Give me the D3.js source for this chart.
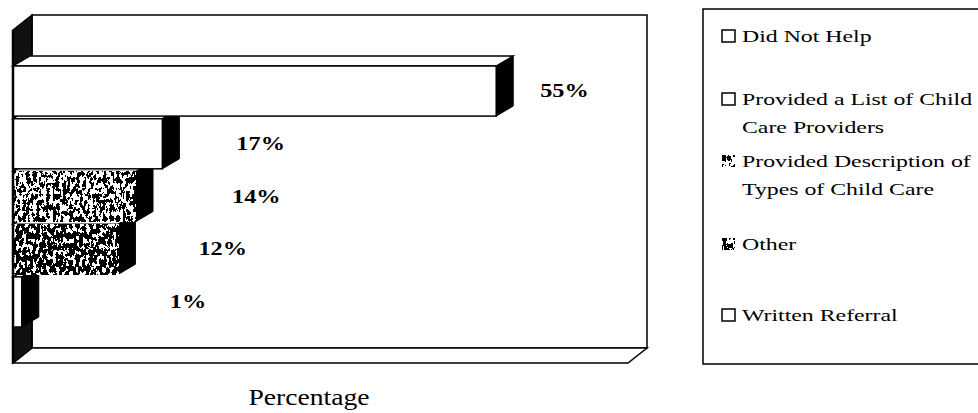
<!DOCTYPE html>
<html>
<head>
<meta charset="utf-8">
<script src="https://cdn.jsdelivr.net/npm/d3@7"></script>
<style>
  html, body { margin: 0; padding: 0; background: #fff; }
  svg { display: block; font-family: "Liberation Serif", "Times New Roman", serif; }
</style>
</head>
<body>
<div id="chart"></div>
<script>
// data
const categories = ["Did Not Help", "Provided a List of Child Care Providers",
    "Provided Description of Types of Child Care", "Other", "Written Referral"];
const values = [55, 17, 14, 12, 1];
const valueLabels = ["55%", "17%", "14%", "12%", "1%"];
const legendLines = [["Did Not Help"], ["Provided a List of Child", "Care Providers"],
    ["Provided Description of", "Types of Child Care"], ["Other"], ["Written Referral"]];
const axisMax = 70;
const axisTitle = "Percentage";

const width = 978, height = 413;

// fill per category: plain white or a scanned-looking speckle
const barFill = ["white", "white", "light", "dark", "white"];

const svg = d3.select("#chart").append("svg")
    .attr("width", width)
    .attr("height", height);

const defs = svg.append("defs");

// white speckles over black; cut is the noise level above which a pixel turns white
function speckle(id, cut, seed) {
    const steps = 40;
    const table = d3.range(steps).map(k => (k / steps >= cut ? 1 : 0)).join(" ");
    const f = defs.append("filter").attr("id", id)
        .attr("x", 0).attr("y", 0).attr("width", 1).attr("height", 1)
        .attr("color-interpolation-filters", "sRGB");
    f.append("feTurbulence").attr("type", "fractalNoise")
        .attr("baseFrequency", "0.3 0.18").attr("numOctaves", 3).attr("seed", seed)
        .attr("result", "noise");
    f.append("feColorMatrix").attr("in", "noise").attr("type", "matrix")
        .attr("values", "0 0 0 0 0  0 0 0 0 0  0 0 0 0 0  1 0 0 0 0").attr("result", "lum");
    f.append("feComponentTransfer").attr("in", "lum").attr("result", "mask")
        .append("feFuncA").attr("type", "discrete").attr("tableValues", table);
    f.append("feFlood").attr("flood-color", "#fff").attr("result", "white");
    f.append("feComposite").attr("in", "white").attr("in2", "mask").attr("operator", "in").attr("result", "spots");
    f.append("feComposite").attr("in", "spots").attr("in2", "SourceGraphic").attr("operator", "in").attr("result", "clipped");
    const m = f.append("feMerge");
    m.append("feMergeNode").attr("in", "SourceGraphic");
    m.append("feMergeNode").attr("in", "clipped");
}
speckle("speckleLight", 0.5, 4);
speckle("speckleDark", 0.54, 9);

function fillOf(kind) { return kind === "white" ? "#fff" : "#000"; }
function filterOf(kind) {
    if (kind === "light") return "url(#speckleLight)";
    if (kind === "dark") return "url(#speckleDark)";
    return null;
}

// text looks horizontally stretched in the scan
function stretch(sel, k) {
    sel.each(function () {
        const w = this.getComputedTextLength();
        d3.select(this).attr("textLength", w * k).attr("lengthAdjust", "spacingAndGlyphs");
    });
}

// scales
const x = d3.scaleLinear().domain([0, axisMax]).range([13, 628]);
const y = d3.scaleBand().domain(categories).range([66, 327]).paddingInner(0.05);

// 3D offsets
const wall = {dx: 19, dy: -15};
const depth = {dx: 17, dy: -10};
const frontTop = 30, frontBottom = 363;

const poly = pts => pts.map(p => p.join(",")).join(" ");

// back wall
svg.append("rect")
    .attr("x", x(0) + wall.dx).attr("y", frontTop + wall.dy)
    .attr("width", x(axisMax) - x(0)).attr("height", frontBottom - frontTop)
    .attr("fill", "#fff").attr("stroke", "#000").attr("stroke-width", 1.5);

// floor
svg.append("polygon")
    .attr("points", poly([[x(0), frontBottom], [x(0) + wall.dx, frontBottom + wall.dy],
        [x(axisMax) + wall.dx, frontBottom + wall.dy], [x(axisMax), frontBottom]]))
    .attr("fill", "#fff").attr("stroke", "#000").attr("stroke-width", 1.5);

// left wall (dark in the scan)
svg.append("polygon")
    .attr("points", poly([[x(0), frontTop], [x(0) + wall.dx, frontTop + wall.dy],
        [x(0) + wall.dx, frontBottom + wall.dy], [x(0), frontBottom]]))
    .attr("fill", "#111").attr("stroke", "#000").attr("stroke-width", 1.5);

// bars, drawn bottom first so upper bars cover the top faces below
const bars = svg.append("g");
const order = d3.range(categories.length).reverse();
order.forEach(i => {
    const x0 = x(0), x1 = x(values[i]);
    const y0 = y(categories[i]), y1 = y0 + y.bandwidth();
    const g = bars.append("g");
    // top face
    g.append("polygon")
        .attr("points", poly([[x0, y0], [x0 + depth.dx, y0 + depth.dy], [x1 + depth.dx, y0 + depth.dy], [x1, y0]]))
        .attr("fill", "#fff").attr("stroke", "#000").attr("stroke-width", 1.3);
    // side face
    g.append("polygon")
        .attr("points", poly([[x1, y0], [x1 + depth.dx, y0 + depth.dy], [x1 + depth.dx, y1 + depth.dy], [x1, y1]]))
        .attr("fill", "#000").attr("stroke", "#000").attr("stroke-width", 1);
    // front face
    g.append("rect")
        .attr("x", x0).attr("y", y0)
        .attr("width", x1 - x0).attr("height", y1 - y0)
        .attr("fill", fillOf(barFill[i]))
        .attr("filter", filterOf(barFill[i]))
        .attr("stroke", "#000").attr("stroke-width", 1.5);
});

// left front edge
svg.append("line")
    .attr("x1", x(0)).attr("x2", x(0)).attr("y1", frontTop).attr("y2", frontBottom)
    .attr("stroke", "#000").attr("stroke-width", 2.5);

// value labels, placed where the scan has them
const labelShift = [44, 74, 96, 80, 148];
svg.append("g").selectAll("text")
    .data(values)
    .join("text")
    .attr("x", (d, i) => x(d) + labelShift[i])
    .attr("y", (d, i) => y(categories[i]) + y.bandwidth() / 2 + 6)
    .attr("font-size", 18)
    .attr("font-weight", "bold")
    .attr("fill", "#000")
    .text((d, i) => valueLabels[i])
    .call(stretch, 1.35);

// axis title
svg.append("text")
    .attr("x", 309).attr("y", 405)
    .attr("text-anchor", "middle")
    .attr("font-size", 23)
    .attr("fill", "#000")
    .text(axisTitle)
    .call(stretch, 1.2);

// legend
const legend = svg.append("g");
legend.append("rect")
    .attr("x", 703).attr("y", 9)
    .attr("width", 300).attr("height", 355)
    .attr("fill", "#fff").attr("stroke", "#000").attr("stroke-width", 1.5);

const legendBase = [42, 105, 167, 250, 321];
const lineGap = 28;
legendLines.forEach((lines, i) => {
    const item = legend.append("g");
    item.append("rect")
        .attr("x", 722).attr("y", legendBase[i] - 12)
        .attr("width", 13).attr("height", 12)
        .attr("fill", fillOf(barFill[i]))
        .attr("filter", filterOf(barFill[i]))
        .attr("stroke", "#000").attr("stroke-width", 1.5);
    item.selectAll("text")
        .data(lines)
        .join("text")
        .attr("x", 742)
        .attr("y", (d, j) => legendBase[i] + j * lineGap)
        .attr("font-size", 17)
        .attr("fill", "#000")
        .text(d => d)
        .call(stretch, 1.4);
});
</script>
</body>
</html>
